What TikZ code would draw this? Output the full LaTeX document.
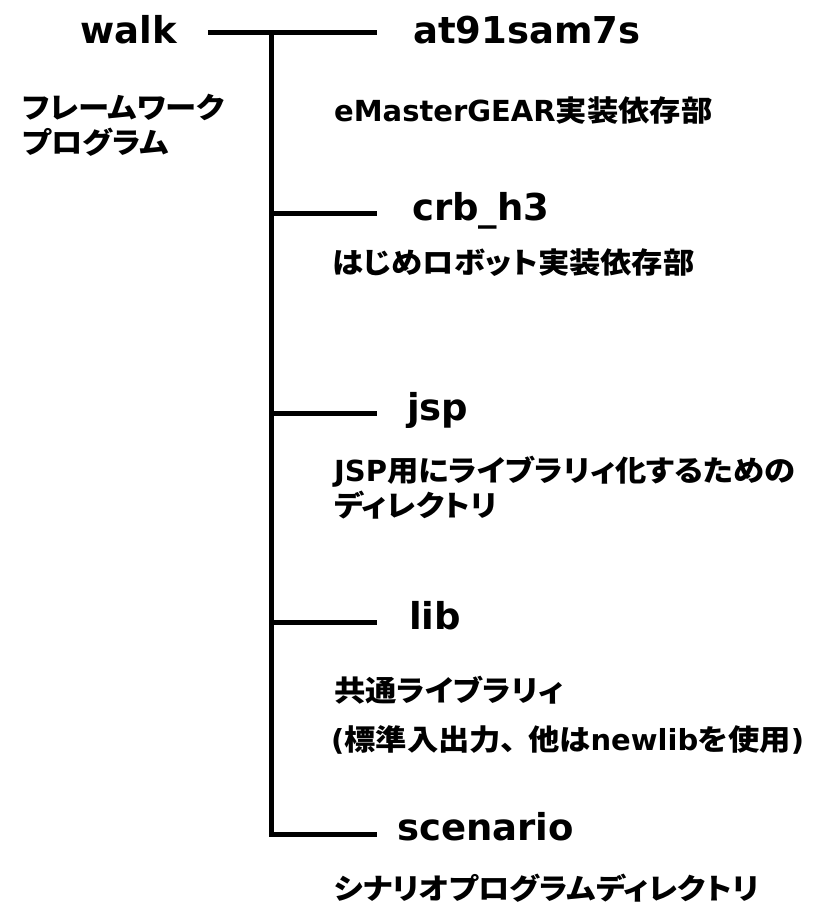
\documentclass[tikz,border=0pt]{standalone}
\usepackage{fontspec}
\newfontfamily\latf{DejaVu Sans}
\newfontfamily\jpf{Noto Sans CJK JP}[FakeStretch=1.08, RawFeature=+palt]
\newcommand{\lt}[1]{{\latf\bfseries #1}}
\begin{document}
\begin{tikzpicture}[x=1pt,y=-1pt,
  title/.style={anchor=base west, inner sep=0pt, font=\latf\bfseries\fontsize{37}{37}\selectfont},
  desc/.style={anchor=west, inner sep=0pt, align=left, font=\jpf\bfseries\fontsize{29}{35}\selectfont},
  conn/.style={line width=5pt, draw=black}]
\useasboundingbox[fill=white] (0,0) rectangle (823,907);
% titles
\node[title] (walk)  at (80,44)   {walk};
\node[title] (at91)  at (413,44)  {at91sam7s};
\node[title] (crb)   at (412,220) {crb\_h3};
\node[title] (jsp)   at (407,420) {jsp};
\node[title] (lib)   at (409,629) {lib};
\node[title] (scen)  at (397,840) {scenario};
% descriptions
\node[desc] (fw)   at (22,125)   {フレームワーク\\プログラム};
\node[desc] (emg)  at (334,111)  {\lt{eMasterGEAR}実装依存部};
\node[desc] (hjm)  at (332,263)  {はじめロボット実装依存部};
\node[desc] (jspd) at (334,488)  {\lt{JSP}用にライブラリィ化するための\\ディレクトリ};
\node[desc] (kyo)  at (334,690)  {共通ライブラリィ};
\node[desc] (hyo)  at (331,740)  {\lt{(}標準入出力、\kern0.4em 他は\lt{newlib}を使用\lt{)}};
\node[desc] (scd)  at (334,888)  {シナリオプログラムディレクトリ};
% connectors
\coordinate (j0) at (271.5,33);
\draw[conn] ([xshift=31pt,yshift=11pt]walk.base east) -- ([xshift=-36pt,yshift=11pt]at91.base west);
\coordinate (crbE)  at ([xshift=-35pt,yshift=7pt]crb.base west);
\coordinate (jspE)  at ([xshift=-30pt,yshift=7pt]jsp.base west);
\coordinate (libE)  at ([xshift=-32pt,yshift=7pt]lib.base west);
\coordinate (scenE) at ([xshift=-20pt,yshift=6pt]scen.base west);
\draw[conn] (j0) |- (scenE);
\draw[conn] (crbE -| j0) -- (crbE);
\draw[conn] (jspE -| j0) -- (jspE);
\draw[conn] (libE -| j0) -- (libE);
\end{tikzpicture}
\end{document}
